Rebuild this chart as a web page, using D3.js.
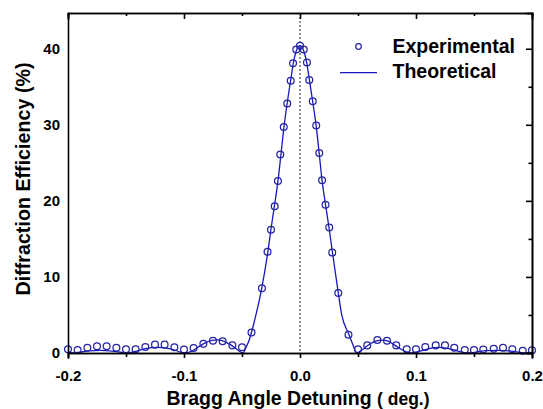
<!DOCTYPE html>
<html>
<head>
  <meta charset="utf-8">
  <title>Bragg detuning</title>
  <script src="https://d3js.org/d3.v7.min.js"></script>
  <style>
    body { margin: 0; background: #fff; }
    svg text { font-family: "Liberation Sans", Arial, sans-serif; font-weight: bold; fill: #000; }
    .eixo path, .eixo line { stroke: #000; stroke-width: 1.6; }
    .eixo text { font-size: 15px; }
  </style>
</head>
<body>
<div id="grafico"></div>
<script>
  "use strict"

  // pontos experimentais (graus, %)
  var expX = [-0.2, -0.1917, -0.1833, -0.175, -0.1667, -0.1583, -0.15, -0.1417, -0.1333, -0.125,
              -0.1167, -0.1083, -0.1, -0.0917, -0.0833, -0.075, -0.0667, -0.0583, -0.05,
              -0.0418, -0.0328, -0.028, -0.025, -0.0218, -0.019, -0.017, -0.014, -0.011, -0.008, -0.006, -0.0032,
              0,
              0.0032, 0.006, 0.008, 0.011, 0.014, 0.0166, 0.019, 0.022, 0.0252, 0.0278, 0.033, 0.0418,
              0.05, 0.058, 0.0667, 0.075, 0.083, 0.092, 0.1, 0.108, 0.117, 0.125, 0.133, 0.142, 0.15,
              0.158, 0.167, 0.175, 0.183, 0.192, 0.2];
  var expY = [0.5, 0.4, 0.7, 0.9, 0.9, 0.7, 0.5, 0.5, 0.8, 1.1,
              1.1, 0.75, 0.45, 0.65, 1.2, 1.6, 1.55, 1.0, 0.75,
              2.7, 8.5, 13.3, 16.2, 19.3, 22.6, 26.1, 29.7, 32.8, 35.8, 38.1, 39.9,
              40.4,
              39.9, 38.2, 35.9, 33.1, 29.9, 26.3, 22.7, 19.5, 16.5, 13.2, 7.9, 2.4,
              0.5, 1.0, 1.7, 1.6, 1.0, 0.5, 0.5, 0.8, 1.0, 1.0, 0.7, 0.4, 0.4,
              0.45, 0.55, 0.7, 0.5, 0.3, 0.35];

  // curva teorica
  var teoX = [-0.2, -0.196, -0.19, -0.182, -0.172, -0.162, -0.155, -0.149, -0.142, -0.135,
              -0.128, -0.122, -0.115, -0.108, -0.103, -0.099, -0.094, -0.088, -0.082, -0.076,
              -0.071, -0.066, -0.06, -0.055, -0.052, -0.049, -0.047, -0.044, -0.042, -0.038,
              -0.033, -0.028, -0.025, -0.022, -0.019, -0.0165, -0.014, -0.011, -0.008, -0.0055,
              -0.003, 0, 0.003, 0.0055, 0.008, 0.011, 0.014, 0.0165, 0.019, 0.022,
              0.025, 0.028, 0.033, 0.036, 0.042, 0.0457, 0.049, 0.052, 0.056, 0.061,
              0.066, 0.071, 0.076, 0.081, 0.086, 0.091, 0.095, 0.101, 0.108, 0.114,
              0.12, 0.126, 0.133, 0.139, 0.145, 0.152, 0.16, 0.17, 0.18, 0.188,
              0.194, 0.2];
  var teoY = [0.15, 0.0, 0.1, 0.28, 0.35, 0.25, 0.1, 0.0, 0.2, 0.5,
              0.7, 0.75, 0.65, 0.38, 0.12, 0.0, 0.2, 0.75, 1.3, 1.65,
              1.72, 1.55, 1.1, 0.55, 0.2, 0.0, 0.6, 1.6, 2.6, 5.0,
              8.5, 13.0, 16.3, 19.4, 22.6, 26.0, 29.5, 32.9, 35.9, 38.3,
              39.8, 40.4, 39.8, 38.4, 36.0, 33.0, 29.8, 26.3, 22.7, 19.5,
              16.5, 13.2, 7.9, 5.0, 2.5, 1.05, 0.0, 0.25, 0.7, 1.25,
              1.6, 1.7, 1.55, 1.1, 0.6, 0.2, 0.0, 0.15, 0.45, 0.68,
              0.75, 0.65, 0.4, 0.15, 0.0, 0.12, 0.3, 0.35, 0.28, 0.12,
              0.0, 0.08];

  var ticksX = [-0.2, -0.1, 0, 0.1, 0.2];
  var ticksXmenor = [-0.15, -0.05, 0.05, 0.15];
  var ticksY = [0, 10, 20, 30, 40];
  var ticksYmenor = [5, 15, 25, 35];
  var legendas = ["Experimental", "Theoretical"];

  var largura = 543, altura = 409;
  var margin = {top: 13, right: 11, bottom: 56, left: 68};
  var larguraVis = largura - margin.left - margin.right,
      alturaVis = altura - margin.top - margin.bottom;
  var azulPonto = "#2323a6", azulLinha = "#1818bb";

  var svg = d3.select("#grafico").append("svg")
      .attr("width", largura)
      .attr("height", altura);
  var g = svg.append("g")
      .attr("transform", "translate(" + margin.left + "," + margin.top + ")");

  var x = d3.scaleLinear().domain([-0.2, 0.2]).range([0, larguraVis]);
  var y = d3.scaleLinear().domain([0, 44.7]).range([alturaVis, 0]);

  // linha pontilhada em zero
  g.append("line")
      .attr("x1", x(0)).attr("x2", x(0))
      .attr("y1", 0).attr("y2", alturaVis)
      .attr("stroke", "#777").attr("stroke-width", 1.6)
      .attr("stroke-dasharray", "2,2");

  // curva teorica
  var linha = d3.line()
      .x(function(d, i) { return x(teoX[i]); })
      .y(function(d) { return y(d); })
      .curve(d3.curveMonotoneX);
  g.append("path")
      .datum(teoY)
      .attr("d", linha)
      .attr("fill", "none")
      .attr("stroke", azulLinha)
      .attr("stroke-width", 1.3);

  // pontos experimentais
  g.selectAll(".ponto")
      .data(expY)
      .enter().append("circle")
      .attr("class", "ponto")
      .attr("cx", function(d, i) { return x(expX[i]); })
      .attr("cy", function(d) { return y(d); })
      .attr("r", 3.4)
      .attr("fill", "none")
      .attr("stroke", azulPonto)
      .attr("stroke-width", 1.25);

  // eixos
  g.append("g").attr("class", "eixo")
      .attr("transform", "translate(0," + alturaVis + ")")
      .call(d3.axisBottom(x).tickValues(ticksX).tickSize(5).tickPadding(12)
        .tickFormat(function(d) { return d.toFixed(1); }));
  g.append("g").attr("class", "eixo")
      .attr("transform", "translate(0," + alturaVis + ")")
      .call(d3.axisBottom(x).tickValues(ticksXmenor).tickSize(4).tickFormat(""));
  g.append("g").attr("class", "eixo")
      .call(d3.axisLeft(y).tickValues(ticksY).tickSize(0).tickPadding(8));
  g.append("g").attr("class", "eixo")
      .call(d3.axisTop(x).tickValues(ticksX).tickSize(-6).tickFormat(""));
  g.append("g").attr("class", "eixo")
      .call(d3.axisTop(x).tickValues(ticksXmenor).tickSize(-3).tickFormat(""));
  g.append("g").attr("class", "eixo")
      .attr("transform", "translate(" + larguraVis + ",0)")
      .call(d3.axisRight(y).tickValues(ticksY).tickSize(-6).tickFormat(""));
  g.append("g").attr("class", "eixo")
      .attr("transform", "translate(" + larguraVis + ",0)")
      .call(d3.axisRight(y).tickValues(ticksYmenor).tickSize(-3.5).tickFormat(""));
  g.selectAll(".eixo path").attr("stroke-linecap", "square");

  // titulos
  var tituloX = svg.append("text")
      .attr("x", 298).attr("y", 405)
      .attr("text-anchor", "middle")
      .style("font-size", "19.5px")
      .text("Bragg Angle Detuning ");
  tituloX.append("tspan").style("font-size", "17.5px").text("( deg.)");

  svg.append("text")
      .attr("transform", "translate(30,179) rotate(-90)")
      .attr("text-anchor", "middle")
      .style("font-size", "19.7px")
      .text("Diffraction Efficiency (%)");

  // legenda
  svg.append("circle")
      .attr("cx", 358.5).attr("cy", 46.5).attr("r", 2.8)
      .attr("fill", "none").attr("stroke", azulPonto).attr("stroke-width", 1.2);
  svg.append("line")
      .attr("x1", 340).attr("x2", 377).attr("y1", 72.7).attr("y2", 72.7)
      .attr("stroke", azulLinha).attr("stroke-width", 1.3);
  svg.selectAll(".leg")
      .data(legendas)
      .enter().append("text")
      .attr("class", "leg")
      .attr("x", 392.5)
      .attr("y", function(d, i) { return 52.7 + i * 25.6; })
      .style("font-size", "19.5px")
      .text(function(d) { return d; });
</script>
</body>
</html>
